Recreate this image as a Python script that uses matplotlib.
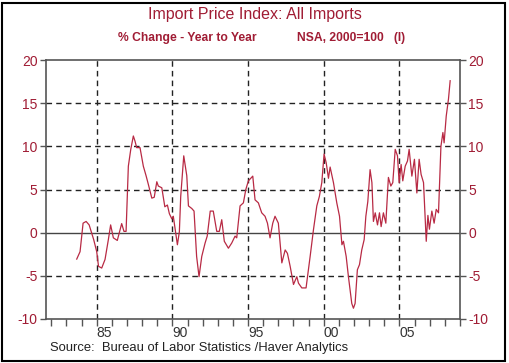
import matplotlib
matplotlib.use("Agg")
import matplotlib.pyplot as plt
from matplotlib.patches import Rectangle

plt.rcParams['font.family'] = ['Liberation Sans', 'DejaVu Sans']

# Year-to-year % change readings (decimal year, value)
years = [1983.68, 1983.90, 1984.10, 1984.30, 1984.50, 1984.80, 1985.00, 1985.12, 1985.33, 1985.55,
         1985.77, 1985.92, 1986.10, 1986.36, 1986.65, 1986.80, 1986.94, 1987.09, 1987.25, 1987.42,
         1987.53, 1987.64, 1987.86, 1988.08, 1988.26, 1988.41, 1988.64, 1988.80, 1988.97, 1989.07,
         1989.30, 1989.50, 1989.67, 1989.80, 1989.96, 1990.06, 1990.18, 1990.33, 1990.46, 1990.55,
         1990.75, 1990.95, 1991.06, 1991.28, 1991.43, 1991.60, 1991.76, 1991.94, 1992.16, 1992.30,
         1992.50, 1992.70, 1992.93, 1993.10, 1993.26, 1993.43, 1993.70, 1993.92, 1994.14, 1994.25,
         1994.47, 1994.69, 1994.85, 1995.02, 1995.31, 1995.46, 1995.68, 1995.90, 1996.12, 1996.28,
         1996.45, 1996.63, 1996.78, 1997.00, 1997.23, 1997.45, 1997.60, 1997.78, 1998.00, 1998.22,
         1998.33, 1998.55, 1998.83, 1999.10, 1999.32, 1999.54, 1999.71, 1999.87, 2000.02, 2000.16,
         2000.31, 2000.42, 2000.64, 2000.86, 2001.04, 2001.20, 2001.30, 2001.48, 2001.63, 2001.85,
         2001.96, 2002.07, 2002.22, 2002.36, 2002.51, 2002.67, 2002.78, 2002.91, 2003.06, 2003.18,
         2003.28, 2003.40, 2003.55, 2003.68, 2003.79, 2003.94, 2004.10, 2004.27, 2004.43, 2004.56,
         2004.72, 2004.87, 2004.98, 2005.11, 2005.22, 2005.38, 2005.53, 2005.64, 2005.82, 2005.99,
         2006.15, 2006.30, 2006.43, 2006.59, 2006.77, 2006.88, 2006.98, 2007.14, 2007.29, 2007.43,
         2007.58, 2007.74, 2007.87, 2007.95, 2008.09, 2008.24, 2008.35]
values = [-3.06, -2.2, 1.1, 1.3, 0.9, -0.8, -2.2, -3.9, -4.1, -3.1,
          -0.8, 0.9, -0.6, -0.9, 1.05, 0.15, 0.15, 7.7, 9.65, 11.2,
          10.6, 9.85, 9.85, 7.7, 6.6, 5.6, 4.0, 4.1, 5.9, 5.4,
          5.2, 3.0, 3.2, 2.2, 1.6, 1.9, 0.4, -1.4, 0.1, 4.2,
          8.9, 6.6, 3.1, 2.8, 2.5, -2.75, -5.1, -2.75, -1.2, -0.4,
          2.5, 2.5, 0.15, 0.15, 1.5, -1.0, -1.8, -1.2, -0.4, -0.6,
          3.1, 3.45, 5.0, 6.0, 6.55, 3.8, 3.45, 2.3, 1.9, 1.1,
          -0.6, 1.1, 1.9, 1.1, -3.5, -2.0, -2.4, -3.9, -6.0, -5.1,
          -5.85, -6.4, -6.4, -2.75, 0.35, 3.1, 4.2, 5.8, 9.1, 8.1,
          6.3, 7.6, 5.8, 3.45, 1.9, -1.4, -1.0, -2.75, -5.1, -8.2,
          -8.75, -8.2, -4.3, -3.7, -2.0, -0.8, 1.9, 3.6, 7.3, 5.8,
          1.3, 2.3, 0.9, 2.3, 0.7, 2.3, 1.1, 6.4, 5.4, 5.8,
          9.65, 8.9, 5.8, 7.9, 6.0, 7.7, 8.3, 9.65, 6.55, 8.5,
          4.6, 8.5, 6.75, 5.8, -1.0, 2.0, 0.4, 2.5, 1.1, 2.7,
          2.3, 10.0, 11.6, 10.4, 13.5, 15.5, 17.6]

y_ticks = [-10, -5, 0, 5, 10, 15, 20]
y_grid = [-5, 5, 10, 15]
x_grid = [1985, 1990, 1995, 2000, 2005]
x_label_pos = [1985.5, 1990.5, 1995.5, 2000.5, 2005.5]
x_labels = ["85", "90", "95", "00", "05"]
year_ticks = list(range(1982, 2010))

title = "Import Price Index: All Imports"
subtitle_left = "% Change - Year to Year"
subtitle_right = "NSA, 2000=100   (I)"
source = "Source:  Bureau of Labor Statistics /Haver Analytics"

red_text = "#a01c34"
line_col = "#b82a44"

fig = plt.figure(figsize=(5.10, 3.63), dpi=100)
ax = fig.add_axes([46/510, 1-319/363, (460-46)/510, (319-60)/363])

ax.set_xlim(1981.65, 2009.0)
ax.set_ylim(-10, 20)

for g in y_grid:
    ax.axhline(g, color="#222222", lw=1.0, dashes=(4, 3), zorder=1)
for g in x_grid:
    ax.axvline(g, color="#222222", lw=1.0, dashes=(4, 3), zorder=1)
ax.axhline(0, color="#444444", lw=1.0, zorder=1)

ax.plot(years, values, color=line_col, lw=0.9, zorder=3)

for s in ax.spines.values():
    s.set_color("#555555")
    s.set_linewidth(1.2)

ax.set_yticks(y_ticks)
ax.set_yticklabels([str(t) for t in y_ticks])
ax.tick_params(axis='y', which='major', direction='out', length=4, width=1,
               color="#555555", labelcolor=red_text, labelsize=10,
               left=True, right=True, labelleft=True, labelright=True, pad=2)

ax.set_xticks(x_label_pos)
ax.set_xticklabels(x_labels)
ax.tick_params(axis='x', which='major', length=0, labelsize=10, labelcolor="#333333", pad=5)
ax.set_xticks(year_ticks, minor=True)
ax.tick_params(axis='x', which='minor', direction='out', length=5, width=1, color="#555555")

fig.text(0.5, 1-14/363, title, ha='center', va='center', color=red_text, fontsize=11.5)
fig.text(187/510, 1-38/363, subtitle_left, ha='center', va='center', color=red_text,
         fontsize=8.7, fontweight='bold')
fig.text(351/510, 1-38/363, subtitle_right, ha='center', va='center', color=red_text,
         fontsize=8.7, fontweight='bold')
fig.text(50/510, 1-348.5/363, source, ha='left', va='center', color="#222222", fontsize=9.4)

fig.patches.append(Rectangle((2/510, 2/363), 503/510, 358/363, transform=fig.transFigure,
                             fill=False, edgecolor="black", lw=1.5))

fig.savefig("out.png", dpi=100)
